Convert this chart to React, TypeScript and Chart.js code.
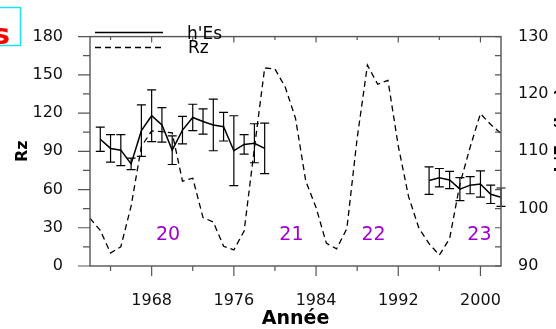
import React, { useEffect, useRef } from "react";
import { Chart, registerables } from "chart.js";

Chart.register(...registerables);

// ---------- data ----------
const rzYears = [
  1962, 1963, 1964, 1965, 1966, 1967, 1968, 1969, 1970, 1971, 1972, 1973, 1974, 1975,
  1976, 1977, 1978, 1979, 1980, 1981, 1982, 1983, 1984, 1985, 1986, 1987, 1988, 1989,
  1990, 1991, 1992, 1993, 1994, 1995, 1996, 1997, 1998, 1999, 2000, 2001, 2002,
];
const rzValues = [
  37.5, 27.9, 10.2, 15.1, 47.0, 93.8, 105.9, 105.5, 104.5, 66.6, 68.9, 38.0, 34.5, 15.5,
  12.6, 27.5, 92.5, 155.4, 154.6, 140.4, 115.9, 66.6, 45.9, 17.9, 13.4, 29.4, 100.2, 157.6,
  142.6, 145.7, 94.3, 54.6, 29.9, 17.5, 8.6, 21.5, 64.3, 93.3, 119.6, 111.0, 104.0,
];

const hesYearsA = [1963, 1964, 1965, 1966, 1967, 1968, 1969, 1970, 1971, 1972, 1973, 1974, 1975, 1976, 1977, 1978, 1979];
const hesValuesA = [112.1, 110.5, 110.2, 107.8, 113.6, 116.2, 114.6, 110.2, 113.7, 115.9, 115.2, 114.6, 114.3, 110.1, 111.2, 111.4, 110.5];
const hesErrorsA = [2.1, 2.4, 2.7, 1.0, 4.5, 4.5, 3.0, 2.5, 2.4, 2.3, 2.2, 4.5, 2.5, 6.1, 1.7, 3.4, 4.4];

const hesYearsB = [1995, 1996, 1997, 1998, 1999, 2000, 2001, 2002];
const hesValuesB = [104.9, 105.4, 105.0, 103.4, 104.1, 104.3, 102.5, 102.0];
const hesErrorsB = [2.4, 1.6, 1.5, 2.0, 1.5, 2.3, 1.6, 1.6];

const xTickLabels = [1968, 1976, 1984, 1992, 2000];
const yTickLabels = [0, 30, 60, 90, 120, 150, 180];
const y1TickLabels = [90, 100, 110, 120, 130];

const cycleLabels = ["20", "21", "22", "23"];
const cycleYears = [1969.6, 1981.6, 1989.6, 1999.9];
const cycleRz = [24, 24, 24, 24];

const FONT = "DejaVu Sans";

const decorPlugin = {
  id: "decor",
  afterDatasetsDraw(chart: any) {
    const { ctx, chartArea: ca, scales } = chart;
    const xs = scales.x;
    const ys = scales.y;
    const y1s = scales.y1;
    ctx.save();
    ctx.setLineDash([]);

    // error bars
    ctx.strokeStyle = "#000";
    ctx.lineWidth = 1.2;
    const segs = [
      [hesYearsA, hesValuesA, hesErrorsA],
      [hesYearsB, hesValuesB, hesErrorsB],
    ];
    segs.forEach(([yrs, vals, errs]) => {
      yrs.forEach((yr: number, i: number) => {
        const px = xs.getPixelForValue(yr);
        const top = y1s.getPixelForValue(vals[i] + errs[i]);
        const bot = y1s.getPixelForValue(vals[i] - errs[i]);
        ctx.beginPath();
        ctx.moveTo(px, top);
        ctx.lineTo(px, bot);
        ctx.moveTo(px - 4.5, top);
        ctx.lineTo(px + 4.5, top);
        ctx.moveTo(px - 4.5, bot);
        ctx.lineTo(px + 4.5, bot);
        ctx.stroke();
      });
    });

    // frame
    ctx.strokeStyle = "#555";
    ctx.lineWidth = 1.4;
    ctx.strokeRect(ca.left, ca.top, ca.right - ca.left, ca.bottom - ca.top);

    // ticks
    ctx.lineWidth = 1.2;
    ctx.beginPath();
    for (let yr = 1964; yr <= 2000; yr += 4) {
      const px = xs.getPixelForValue(yr);
      const major = (yr - 1968) % 8 === 0;
      ctx.moveTo(px, ca.bottom);
      ctx.lineTo(px, ca.bottom + (major ? 10 : 5));
      ctx.moveTo(px, ca.top);
      ctx.lineTo(px, ca.top + (major ? 6 : 3.5));
    }
    for (let v = 0; v <= 180; v += 15) {
      const py = ys.getPixelForValue(v);
      const major = v % 30 === 0;
      ctx.moveTo(ca.left - (major ? 12 : 7), py);
      ctx.lineTo(ca.left, py);
      ctx.moveTo(ca.right - 6, py);
      ctx.lineTo(ca.right, py);
    }
    ctx.stroke();

    // legend
    ctx.strokeStyle = "#000";
    ctx.lineWidth = 1.5;
    ctx.beginPath();
    ctx.moveTo(95, 32.5);
    ctx.lineTo(163, 32.5);
    ctx.stroke();
    ctx.setLineDash([6, 4]);
    ctx.beginPath();
    ctx.moveTo(95, 47.5);
    ctx.lineTo(163, 47.5);
    ctx.stroke();
    ctx.setLineDash([]);
    ctx.fillStyle = "#000";
    ctx.font = `17px "${FONT}"`;
    ctx.textAlign = "left";
    ctx.textBaseline = "alphabetic";
    ctx.fillText("h'Es", 187, 39);
    ctx.fillText("Rz", 188, 53);

    // cycle numbers
    ctx.fillStyle = "#a100d0";
    ctx.font = `19px "${FONT}"`;
    ctx.textAlign = "center";
    ctx.textBaseline = "middle";
    cycleLabels.forEach((t, i) => {
      ctx.fillText(t, xs.getPixelForValue(cycleYears[i]), ys.getPixelForValue(cycleRz[i]));
    });

    // red label box (cropped)
    ctx.strokeStyle = "#1fe0f0";
    ctx.lineWidth = 1.5;
    ctx.strokeRect(-5, 7.5, 25.5, 38);
    ctx.fillStyle = "#ff0000";
    ctx.font = `bold 29px "${FONT}"`;
    ctx.textAlign = "right";
    ctx.textBaseline = "alphabetic";
    ctx.fillText("s", 10, 43.5);

    // right axis title (cropped)
    ctx.save();
    ctx.translate(566, 130);
    ctx.rotate(-Math.PI / 2);
    ctx.fillStyle = "#000";
    ctx.font = `bold 16px "${FONT}"`;
    ctx.textAlign = "center";
    ctx.textBaseline = "alphabetic";
    ctx.fillText("h'Es (km)", 0, 0);
    ctx.restore();

    ctx.restore();
  },
};

export default function App() {
  const ref = useRef<HTMLCanvasElement | null>(null);

  useEffect(() => {
    if (!ref.current) return;
    const rzData = rzYears.map((x, i) => ({ x, y: rzValues[i] }));
    const hesData = [
      ...hesYearsA.map((x, i) => ({ x, y: hesValuesA[i] as number | null })),
      { x: 1987, y: null },
      ...hesYearsB.map((x, i) => ({ x, y: hesValuesB[i] as number | null })),
    ];
    const tickFont = { family: FONT, size: 16 };
    const chart = new Chart(ref.current, {
      type: "line",
      data: {
        datasets: [
          {
            label: "Rz",
            data: rzData,
            yAxisID: "y",
            borderColor: "#000",
            borderWidth: 1.3,
            borderDash: [6, 4],
            pointRadius: 0,
            tension: 0,
            fill: false,
          },
          {
            label: "h'Es",
            data: hesData as any,
            yAxisID: "y1",
            borderColor: "#000",
            borderWidth: 1.5,
            pointRadius: 0,
            tension: 0,
            fill: false,
            spanGaps: false,
          },
        ],
      },
      options: {
        animation: false,
        responsive: false,
        devicePixelRatio: 1,
        layout: { padding: { top: 17, left: 0, right: 0, bottom: 0 } },
        plugins: { legend: { display: false }, tooltip: { enabled: false } },
        scales: {
          x: {
            type: "linear",
            position: "bottom",
            min: 1962,
            max: 2002,
            afterBuildTicks: (s: any) => {
              s.ticks = xTickLabels.map((v) => ({ value: v }));
            },
            afterFit: (s: any) => {
              s.height = 63;
            },
            ticks: {
              font: tickFont,
              color: "#111",
              padding: 25,
              autoSkip: false,
              maxRotation: 0,
              callback: (v: any) => String(v),
            },
            grid: { display: false, drawTicks: false, tickLength: 0 },
            border: { display: false },
            title: {
              display: true,
              text: "Année",
              color: "#000",
              font: { family: FONT, size: 19, weight: "bold", lineHeight: 1 },
              padding: 0,
            },
          },
          y: {
            type: "linear",
            position: "left",
            min: 0,
            max: 180,
            afterBuildTicks: (s: any) => {
              s.ticks = yTickLabels.map((v) => ({ value: v }));
            },
            afterFit: (s: any) => {
              s.width = 90;
            },
            ticks: { font: tickFont, color: "#111", padding: 27, callback: (v: any) => String(v) },
            grid: { display: false, drawTicks: false, tickLength: 0 },
            border: { display: false },
            title: {
              display: true,
              text: "Rz",
              color: "#000",
              font: { family: FONT, size: 16, weight: "bold", lineHeight: 1 },
              padding: { top: 14.5, bottom: 0 },
            },
          },
          y1: {
            type: "linear",
            position: "right",
            min: 90,
            max: 130,
            afterBuildTicks: (s: any) => {
              s.ticks = y1TickLabels.map((v) => ({ value: v }));
            },
            afterFit: (s: any) => {
              s.width = 55;
            },
            ticks: { font: tickFont, color: "#111", padding: 17, callback: (v: any) => String(v) },
            grid: { display: false, drawTicks: false, tickLength: 0 },
            border: { display: false },
          },
        },
      } as any,
      plugins: [decorPlugin],
    });
    return () => chart.destroy();
  }, []);

  return (
    <div style={{ position: "absolute", left: 0, top: 0, width: 556, height: 329, background: "#fff" }}>
      <canvas ref={ref} width={556} height={329} style={{ width: 556, height: 329, display: "block" }} />
    </div>
  );
}
